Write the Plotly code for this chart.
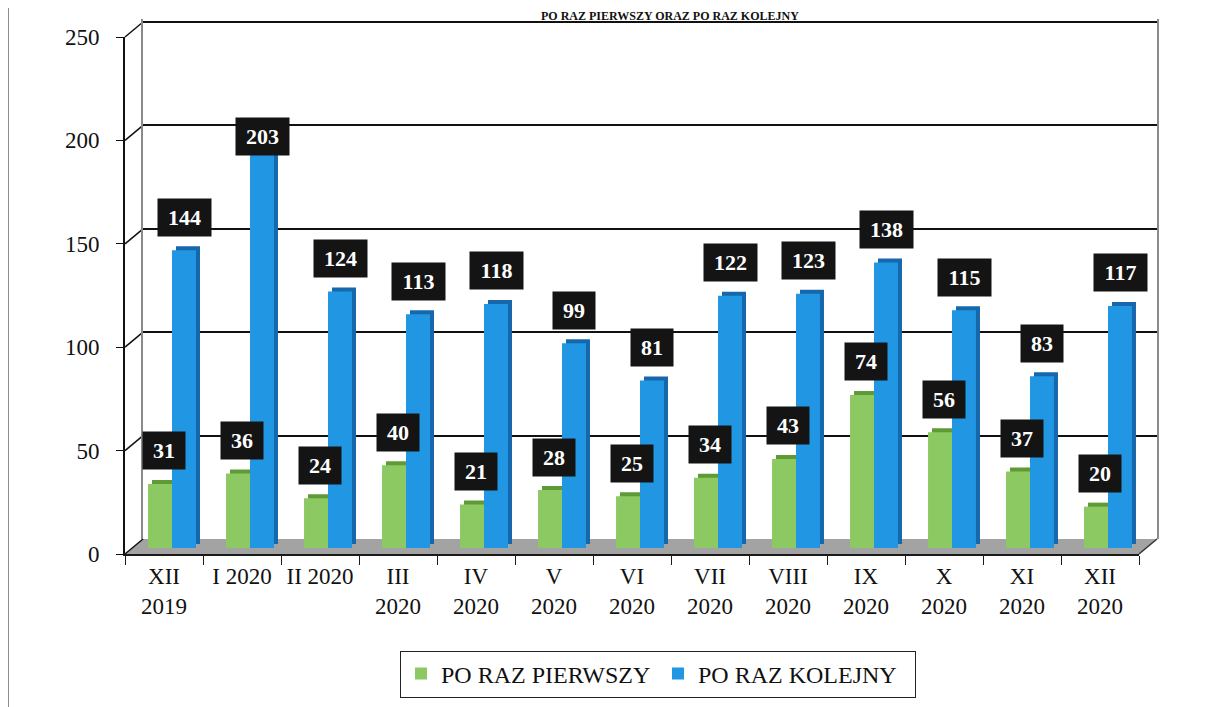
import plotly.graph_objects as go

# ---------------- data ----------------
categories = ["XII<br>2019", "I 2020", "II 2020", "III<br>2020", "IV<br>2020", "V<br>2020",
              "VI<br>2020", "VII<br>2020", "VIII<br>2020", "IX<br>2020", "X<br>2020",
              "XI<br>2020", "XII<br>2020"]
first_time = [31, 36, 24, 40, 21, 28, 25, 34, 43, 74, 56, 37, 20]
next_time = [144, 203, 124, 113, 118, 99, 81, 122, 123, 138, 115, 83, 117]
y_ticks = [0, 50, 100, 150, 200, 250]
series_names = ["PO RAZ PIERWSZY", "PO RAZ KOLEJNY"]
title_text = "PO RAZ PIERWSZY ORAZ PO RAZ KOLEJNY"

# ---------------- geometry (screen pixels) ----------------
OFF = 8                      # page body margin
W, H = 1207 - OFF, 707 - OFF  # figure size so it fits the window
YMAX = 250
YTOP = 251.5                 # a little headroom so the 250 grid line is not clipped
SCALE = 2.068                # px per unit
FX0, FX1, FY0 = 125, 1139, 554   # front frame
BX, BY = 18, 15                  # back-wall offset
BAR_DX, BAR_Y0 = 8, 548          # bars (mid depth)
SIDE = 4                         # 3D side/top thickness


def px(x):
    return (x - OFF) / W


def py(y):
    return 1 - (y - OFF) / H


def ydom(y0, top=YMAX):
    return [py(y0), py(y0 - top * SCALE)]


SERIF = "Liberation Serif"
GREEN, GREEN_D = "#8cc963", "#5e9a36"
BLUE, BLUE_D = "#2196e3", "#1767ad"

fig = go.Figure()

# invisible helper traces so the wall / frame axes exist
fig.add_trace(go.Scatter(x=[0.5], y=[0], mode="markers", marker=dict(opacity=0),
                         hoverinfo="skip", showlegend=False, xaxis="x", yaxis="y"))
fig.add_trace(go.Scatter(x=categories, y=[0] * len(categories), mode="markers",
                         marker=dict(opacity=0), hoverinfo="skip", showlegend=False,
                         xaxis="x4", yaxis="y4"))

# depth (side/top) bars
for vals, col in [(first_time, GREEN_D), (next_time, BLUE_D)]:
    fig.add_trace(go.Bar(x=categories, y=vals, marker=dict(color=col, line=dict(width=0)),
                         showlegend=False, hoverinfo="skip", xaxis="x2", yaxis="y2"))

# front bars
for vals, col, name in [(first_time, GREEN, series_names[0]), (next_time, BLUE, series_names[1])]:
    fig.add_trace(go.Bar(x=categories, y=vals, name=name,
                         marker=dict(color=col, line=dict(width=0)),
                         xaxis="x3", yaxis="y3"))

# ---------------- axes ----------------
cat_common = dict(type="category", categoryorder="array", categoryarray=categories,
                  range=[-0.5, len(categories) - 0.5], fixedrange=True, automargin=False)
hidden = dict(showgrid=False, showline=False, zeroline=False, showticklabels=False, ticks="")

fig.update_layout(
    # back wall (drawn first)
    xaxis=dict(domain=[px(FX0 + BX), px(FX1 + BX)], anchor="y", range=[0, 1],
               automargin=False, **hidden),
    yaxis=dict(domain=ydom(FY0 - BY, YTOP), anchor="x", range=[0, YTOP], automargin=False,
               tickvals=y_ticks[1:], showgrid=True, gridcolor="#111", gridwidth=2,
               showticklabels=False, ticks="", zeroline=False, showline=True,
               mirror=True, linecolor="#8a8a8a", linewidth=1.5),
    # bar depth
    xaxis2=dict(domain=[px(FX0 + BAR_DX + SIDE), px(FX1 + BAR_DX + SIDE)], anchor="y2",
                **cat_common, **hidden),
    yaxis2=dict(domain=ydom(BAR_Y0 - SIDE), anchor="x2", range=[0, YMAX],
                automargin=False, **hidden),
    # front bars
    xaxis3=dict(domain=[px(FX0 + BAR_DX), px(FX1 + BAR_DX)], anchor="y3",
                **cat_common, **hidden),
    yaxis3=dict(domain=ydom(BAR_Y0), anchor="x3", range=[0, YMAX],
                automargin=False, **hidden),
    # front frame with tick labels
    xaxis4=dict(domain=[px(FX0), px(FX1)], anchor="y4", showline=True, linecolor="#1a1a1a",
                linewidth=2, ticks="outside", tickson="boundaries", ticklen=9,
                tickcolor="#1a1a1a", tickwidth=1.2, showgrid=False, zeroline=False,
                tickfont=dict(family=SERIF, size=23, color="#111"), ticklabelstandoff=0,
                **cat_common),
    yaxis4=dict(domain=ydom(FY0), anchor="x4", range=[0, YMAX], tickvals=y_ticks,
                showline=True, linecolor="#111", linewidth=2, ticks="outside", ticklen=7,
                tickcolor="#111", showgrid=False, zeroline=False, ticklabelstandoff=12,
                automargin=False,
                tickfont=dict(family=SERIF, size=23, color="#111")),
    barmode="group", bargap=0.385, bargroupgap=0,
    width=W, height=H, margin=dict(l=0, r=0, t=0, b=0, autoexpand=False),
    paper_bgcolor="white", plot_bgcolor="rgba(0,0,0,0)",
    showlegend=True,
    legend=dict(orientation="h", x=px(658), xanchor="center", y=py(674), yanchor="middle",
                bordercolor="#222", borderwidth=1, bgcolor="white", entrywidth=212,
                entrywidthmode="pixels",
                font=dict(family=SERIF, size=24, color="#111"), traceorder="normal"),
)

# ---------------- 3D frame shapes ----------------
def fy(v):
    return FY0 - v * SCALE


shapes = []
# floor
shapes.append(dict(type="path", xref="paper", yref="paper", layer="below",
                   path=f"M{px(FX0)},{py(FY0)} L{px(FX1)},{py(FY0)} L{px(FX1 + BX)},{py(FY0 - BY)} "
                        f"L{px(FX0 + BX)},{py(FY0 - BY)} Z",
                   fillcolor="#a3a3a3", line=dict(width=0)))
# left connectors between front axis and back wall
for v in y_ticks:
    shapes.append(dict(type="line", xref="paper", yref="paper", layer="below",
                       x0=px(FX0), y0=py(fy(v)), x1=px(FX0 + BX), y1=py(fy(v) - BY),
                       line=dict(color="#111", width=1.5)))
# right floor edge
shapes.append(dict(type="line", xref="paper", yref="paper", layer="below",
                   x0=px(FX1), y0=py(FY0), x1=px(FX1 + BX), y1=py(FY0 - BY),
                   line=dict(color="#333", width=1.5)))
# page border from scan
shapes.append(dict(type="line", xref="paper", yref="paper", layer="above",
                   x0=px(8), y0=0, x1=px(8), y1=1, line=dict(color="#666", width=1.5)))
fig.update_layout(shapes=shapes)

# ---------------- data labels ----------------
ann = []
for cat, v1, v2 in zip(categories, first_time, next_time):
    for v, xs in [(v1, -8), (v2, 12)]:
        ann.append(dict(x=cat, y=min(v + 16, 199), xref="x3", yref="y3", xshift=xs,
                        text=f"<b>{v}</b>", showarrow=False,
                        font=dict(family=SERIF, size=22, color="white"),
                        bgcolor="#141414", width=40 if v < 100 else 51, height=35,
                        align="center", valign="middle"))
# title (cut by the page edge in the original scan; kept small and fully visible here)
ann.append(dict(x=px(670), y=1, xref="paper", yref="paper", xanchor="center",
                yanchor="top", text=f"<b>{title_text}</b>", showarrow=False, borderpad=0,
                font=dict(family=SERIF, size=12, color="#111")))
fig.update_layout(annotations=ann)

fig.write_html("out.html")
